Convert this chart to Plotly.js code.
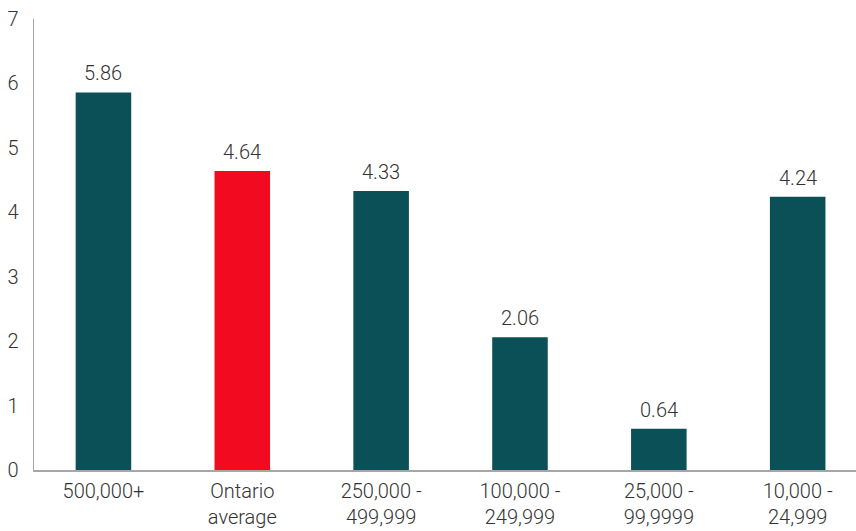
<!DOCTYPE html>
<html><head><meta charset="utf-8">
<script src="https://cdn.plot.ly/plotly-3.0.1.min.js"></script>
<style>html,body{margin:0;padding:0;background:#fff}#c{width:856px;height:531px}</style>
</head><body><div id="c"></div>
<script>
const categories = ["500,000+", "Ontario<br>average", "250,000 -<br>499,999", "100,000 -<br>249,999", "25,000 -<br>99,9999", "10,000 -<br>24,999"];
const values = [5.86, 4.64, 4.33, 2.06, 0.64, 4.24];
const valueLabels = ["5.86", "4.64", "4.33", "2.06", "0.64", "4.24"];
const barColors = ["#0b5057", "#f20a21", "#0b5057", "#0b5057", "#0b5057", "#0b5057"];
const yTicks = [0, 1, 2, 3, 4, 5, 6, 7];
const positions = categories.map((_, i) => i);

const font = {family: "Roboto, 'Open Sans', sans-serif", size: 20, color: "#333333", weight: 300};

Plotly.newPlot("c", [{
  type: "bar",
  x: positions,
  y: values,
  width: 0.4,
  marker: {color: barColors},
  hoverinfo: "none"
}], {
  width: 856, height: 531,
  margin: {l: 34, r: 0, t: 19, b: 61, pad: 0},
  paper_bgcolor: "#fff", plot_bgcolor: "#fff",
  showlegend: false,
  font: font,
  annotations: positions.map(i => ({
    x: i, y: values[i], xref: "x", yref: "y",
    text: valueLabels[i], showarrow: false,
    yanchor: "bottom", yshift: 5, font: font
  })),
  xaxis: {
    range: [-0.5, 5.42],
    tickmode: "array", tickvals: positions, ticktext: categories,
    showline: true, linecolor: "#a6a6a6", linewidth: 1.5,
    showgrid: false, zeroline: false, ticks: "", tickfont: font,
    ticklabelstandoff: 2,
    fixedrange: true
  },
  yaxis: {
    range: [0, 7],
    tickmode: "array", tickvals: yTicks,
    showline: true, linecolor: "#a6a6a6", linewidth: 1.5,
    showgrid: false, zeroline: false, ticks: "", tickfont: font,
    ticklabelstandoff: 10,
    fixedrange: true
  }
}, {staticPlot: true});
</script></body></html>
